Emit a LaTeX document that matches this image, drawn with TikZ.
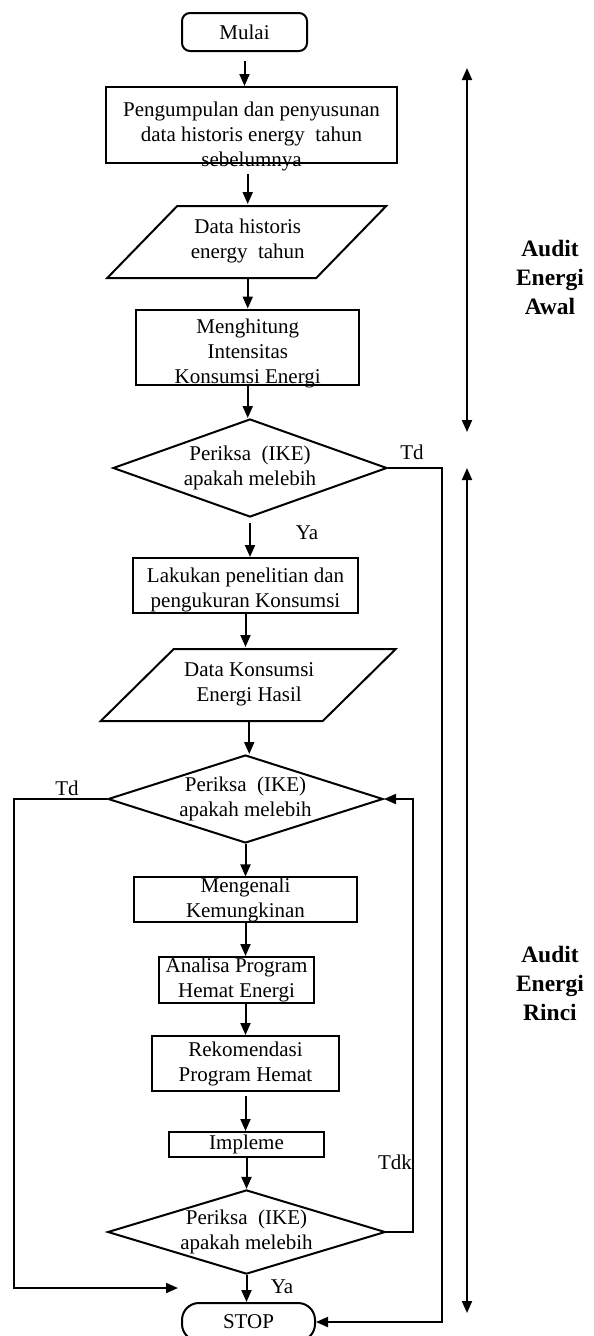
\documentclass[tikz,border=0pt]{standalone}
\usepackage{fontspec}
\setmainfont{Liberation Serif}
\usetikzlibrary{shapes.geometric,arrows.meta}

\newcommand{\turun}[2]{\raisebox{-#1}[\height][\depth]{\begin{tabular}{@{}c@{}}#2\end{tabular}}}

\begin{document}
\begin{tikzpicture}[x=1pt,y=-1pt,line width=2pt,
    every node/.style={font=\fontsize{21}{25}\selectfont,inner sep=0pt},
    proses/.style={draw,align=center},
    cek/.style={draw,diamond,aspect=3.1,align=center},
    judul/.style={font=\fontsize{23.5}{29}\selectfont\bfseries,align=center},
    panah/.style={-{Triangle[length=12pt,width=10pt]}},
    panah2/.style={{Triangle[length=12pt,width=10pt]}-{Triangle[length=12pt,width=10pt]}}]
\useasboundingbox (0,0) rectangle (594,1336);

\node[draw,rounded corners=8pt,minimum width=125pt,minimum height=38pt] (mulai) at (244.5,32) {Mulai};
\node[proses,minimum width=291pt,minimum height=76pt] (kumpul) at (251.5,125) {\turun{11pt}{Pengumpulan dan penyusunan\\data historis energy~ tahun\\sebelumnya}};
\node[align=center,minimum width=209pt,minimum height=72pt] (data1) at (247.75,241) {Data historis\\energy~ tahun};
\draw (data1.south west) ++(-35,0) -- ++(209,0) -- ++(70,-72) -- ++(-209,0) -- cycle;
\node[proses,minimum width=223pt,minimum height=74pt] (hitung) at (247.75,347) {\turun{6pt}{Menghitung\\Intensitas\\Konsumsi Energi}};
\node[cek,minimum width=274pt,minimum height=98pt] (periksa1) at (250,468) {Periksa~ (IKE)\\apakah melebih};
\node[proses,minimum width=225pt,minimum height=55pt] (teliti) at (245.5,585.5) {\turun{4pt}{Lakukan penelitian dan\\pengukuran Konsumsi}};
\node[align=center,minimum width=222pt,minimum height=72pt] (data2) at (249.25,684) {Data Konsumsi\\Energi Hasil};
\draw (data2.south west) ++(-36.5,0) -- ++(222,0) -- ++(73,-72) -- ++(-222,0) -- cycle;
\node[cek,minimum width=275pt,minimum height=88pt] (periksa2) at (245.5,799) {Periksa~ (IKE)\\apakah melebih};
\node[proses,minimum width=223pt,minimum height=43pt] (kenali) at (245.5,899.5) {Mengenali\\Kemungkinan};
\node[proses,minimum width=155pt,minimum height=46pt] (analisa) at (236.5,980) {Analisa Program\\Hemat Energi};
\node[proses,minimum width=187pt,minimum height=55pt] (rekom) at (245.5,1063.5) {Rekomendasi\\Program Hemat};
\node[proses,minimum width=155pt,minimum height=25pt] (impl) at (246.5,1144.5) {Impleme};
\node[cek,aspect=3.3,minimum width=273pt,minimum height=82pt] (periksa3) at (246.5,1232) {Periksa~ (IKE)\\apakah melebih};
\node[draw,rounded corners=17pt,minimum width=133pt,minimum height=38pt] (stop) at (248.5,1322) {STOP};

\node (td1) at (412,452) {Td};
\node (ya1) at (307,533) {Ya};
\node (td2) at (67,788) {Td};
\node (tdk) at (395,1162) {Tdk};
\node (ya2) at (282,1287) {Ya};
\node[judul] (awal) at (550,277) {Audit\\Energi\\Awal};
\node[judul] (rinci) at (550,983) {Audit\\Energi\\Rinci};

\coordinate (awal1) at (467,68);
\coordinate (awal2) at (467,432);
\coordinate (rinci1) at (467,468);
\coordinate (rinci2) at (467,1313);
\coordinate (ujung) at (178,1288);

\draw[panah,shorten <=9pt] (mulai) -- (mulai |- kumpul.north);
\draw[panah,shorten <=10pt] (data1 |- kumpul.south) -- (data1.north);
\draw[panah] (data1.south) -- (data1.south |- hitung.north);
\draw[panah] (hitung.south) -- (hitung.south |- periksa1.north);
\draw[panah,shorten <=5pt] (periksa1.south) -- (periksa1.south |- teliti.north);
\draw[panah] (teliti.south) -- (teliti.south |- data2.north);
\draw[panah] (data2.south) -- (data2.south |- periksa2.north);
\draw[panah] (periksa2.south) -- (kenali.north);
\draw[panah] (kenali.south) -- (kenali.south |- analisa.north);
\draw[panah] (rekom.north |- analisa.south) -- (rekom.north);
\draw[panah,shorten <=4pt] (rekom.south) -- (rekom.south |- impl.north);
\draw[panah] (impl.south) -- (periksa3.north);
\draw[panah] (periksa3.south) -- (periksa3.south |- stop.north);
\draw[panah] (periksa1.east) -- ++(54,0) |- (stop.east);
\draw[panah] (periksa2.west) -- ++(-93,0) |- (ujung);
\draw[panah] (periksa3.east) -- ++(27,0) |- (periksa2.east);
\draw[panah2] (awal1) -- (awal2);
\draw[panah2] (rinci1) -- (rinci2);
\end{tikzpicture}
\end{document}
